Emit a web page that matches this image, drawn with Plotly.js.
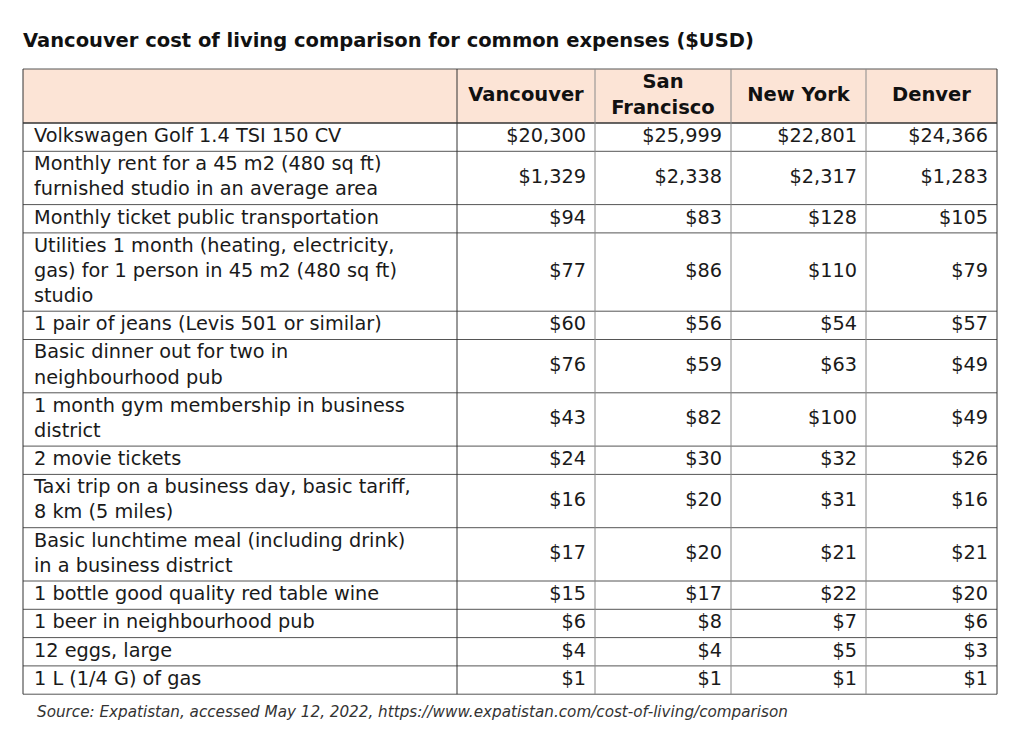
<!DOCTYPE html>
<html>
<head>
<meta charset="utf-8">
<script src="https://cdn.plot.ly/plotly-3.0.1.min.js"></script>
<style>html,body{margin:0;padding:0;background:#fff;}#chart{width:1024px;height:738px;}</style>
</head>
<body>
<div id="chart"></div>
<script>
const headers = ["", "Vancouver", "San<br>Francisco", "New York", "Denver"];
const items = [
  "Volkswagen Golf 1.4 TSI 150 CV",
  "Monthly rent for a 45 m2 (480 sq ft)<br>furnished studio in an average area",
  "Monthly ticket public transportation",
  "Utilities 1 month (heating, electricity,<br>gas) for 1 person in 45 m2 (480 sq ft)<br>studio",
  "1 pair of jeans (Levis 501 or similar)",
  "Basic dinner out for two in<br>neighbourhood pub",
  "1 month gym membership in business<br>district",
  "2 movie tickets",
  "Taxi trip on a business day, basic tariff,<br>8 km (5 miles)",
  "Basic lunchtime meal (including drink)<br>in a business district",
  "1 bottle good quality red table wine",
  "1 beer in neighbourhood pub",
  "12 eggs, large",
  "1 L (1/4 G) of gas"
];
const vancouver = ["$20,300","$1,329","$94","$77","$60","$76","$43","$24","$16","$17","$15","$6","$4","$1"];
const sanFrancisco = ["$25,999","$2,338","$83","$86","$56","$59","$82","$30","$20","$20","$17","$8","$4","$1"];
const newYork = ["$22,801","$2,317","$128","$110","$54","$63","$100","$32","$31","$21","$22","$7","$5","$1"];
const denver = ["$24,366","$1,283","$105","$79","$57","$49","$49","$26","$16","$21","$20","$6","$3","$1"];
const titleText = "Vancouver cost of living comparison for common expenses ($USD)";
const sourceText = "Source: Expatistan, accessed May 12, 2022, https://www.expatistan.com/cost-of-living/comparison";

// ---- layout geometry (pixel-like units on hidden axes) ----
const colEdges = [23, 457, 595, 731, 866, 997];
const tableTop = 69, headerH = 54, baseRowH = 28.3, lineH = 25;
const FONT = "DejaVu Sans, sans-serif";
const FONT_SIZE = 19.3;

const lineCounts = items.map(s => s.split("<br>").length);
const rowTops = [];
let y = tableTop + headerH;
lineCounts.forEach(n => { rowTops.push(y); y += baseRowH + (n - 1) * lineH; });
const tableBottom = y;
const rowCenters = lineCounts.map((n, i) => rowTops[i] + (baseRowH + (n - 1) * lineH) / 2);

const shapes = [];
// header fill
shapes.push({type: "rect", xref: "x", yref: "y", x0: colEdges[0], x1: colEdges[5], y0: tableTop, y1: tableTop + headerH,
  fillcolor: "#fce4d6", line: {width: 0}, layer: "below"});
// horizontal lines
const hLines = [tableTop, tableTop + headerH].concat(rowTops.slice(1), [tableBottom]);
hLines.forEach((yy, i) => shapes.push({type: "line", xref: "x", yref: "y", x0: colEdges[0], x1: colEdges[5], y0: yy, y1: yy,
  line: {color: (i === 1) ? "#333333" : "#555555", width: (i === 1) ? 1.6 : 1}}));
// vertical lines
colEdges.forEach((xx, i) => shapes.push({type: "line", xref: "x", yref: "y", x0: xx, x1: xx, y0: tableTop, y1: tableBottom,
  line: {color: (i === 0 || i === 1 || i === 5) ? "#333333" : "#8a8a8a", width: 1}}));

const traces = [];
// row labels
traces.push({type: "scatter", mode: "text", x: items.map(() => colEdges[0] + 11), y: rowCenters, text: items,
  textposition: "middle right", textfont: {family: FONT, size: FONT_SIZE, color: "#1a1a1a"}, cliponaxis: false, hoverinfo: "skip"});
// values
[vancouver, sanFrancisco, newYork, denver].forEach((col, c) => {
  traces.push({type: "scatter", mode: "text", x: col.map(() => colEdges[c + 2] - 9), y: rowCenters, text: col,
    textposition: "middle left", textfont: {family: FONT, size: FONT_SIZE, color: "#1a1a1a"}, cliponaxis: false, hoverinfo: "skip"});
});
// headers
traces.push({type: "scatter", mode: "text",
  x: headers.map((h, i) => (colEdges[i] + colEdges[i + 1]) / 2),
  y: headers.map(() => tableTop + headerH / 2),
  text: headers.map(h => h ? "<b>" + h + "</b>" : ""),
  textposition: "middle center", textfont: {family: FONT, size: 19.5, color: "#111111"}, cliponaxis: false, hoverinfo: "skip"});

const layout = {
  width: 1024, height: 738,
  margin: {l: 0, r: 0, t: 0, b: 0},
  paper_bgcolor: "#ffffff", plot_bgcolor: "#ffffff",
  showlegend: false,
  xaxis: {range: [0, 1024], visible: false, fixedrange: true},
  yaxis: {range: [738, 0], visible: false, fixedrange: true},
  shapes: shapes,
  title: {text: "<b>" + titleText + "</b>", xref: "paper", yref: "container", x: 23 / 1024, xanchor: "left", y: 1 - 40 / 738, yanchor: "middle",
    font: {family: FONT, size: 19.5, color: "#111111"}},
  annotations: [
    {text: "<i>" + sourceText + "</i>", xref: "x", yref: "y", x: 35, y: 712, xanchor: "left", yanchor: "middle", showarrow: false,
      font: {family: FONT, size: 15.2, color: "#333333"}}
  ]
};
Plotly.newPlot("chart", traces, layout, {displayModeBar: false, staticPlot: true});
</script>
</body>
</html>
